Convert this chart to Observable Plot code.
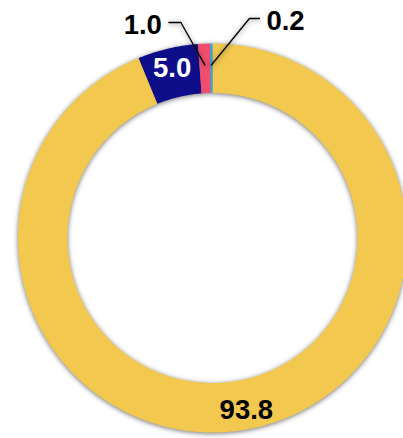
<!DOCTYPE html>
<html>
<head>
<meta charset="utf-8">
<script src="https://cdn.jsdelivr.net/npm/d3@7"></script>
<script src="https://cdn.jsdelivr.net/npm/@observablehq/plot@0.6"></script>
<style>
  html, body { margin: 0; padding: 0; background: #fff; }
  #chart svg g[aria-label="line"] { filter: drop-shadow(0px 1px 2.5px rgba(0,0,0,0.55)); }
</style>
</head>
<body>
<div id="chart"></div>
<script>
// Data
const categories = ["A", "B", "C", "D"];
const values = [93.8, 5.0, 1.0, 0.2];
const labels = ["93.8", "5.0", "1.0", "0.2"];
const colors = ["#F2C84E", "#0E0E8A", "#F04E6E", "#3AA6DA"];

// Layout (pixels, relative to donut centre; y downward)
const W = 403, H = 438;
const cx = 212, cy = 237.5;
const R = 194.5, r0 = 145;
const labelR = 175;
const insideMin = 3; // slices at least this value get inside labels
const FS = 27.5;
const FONT = "Liberation Sans, Arial, sans-serif";

const total = d3.sum(values);
let acc = 0;
const slices = values.map((v, i) => {
  const a0 = acc / total * 2 * Math.PI;
  acc += v;
  const a1 = acc / total * 2 * Math.PI;
  return {name: categories[i], value: v, label: labels[i], color: colors[i], a0, a1, mid: (a0 + a1) / 2};
});
const pt = (a, rad) => ({x: rad * Math.sin(a), y: -rad * Math.cos(a)});

// arc polygons
const ring = [];
for (const s of slices) {
  const n = Math.max(2, Math.ceil((s.a1 - s.a0) / 0.01));
  for (let k = 0; k <= n; k++) ring.push({name: s.name, ...pt(s.a0 + (s.a1 - s.a0) * k / n, R)});
  for (let k = n; k >= 0; k--) ring.push({name: s.name, ...pt(s.a0 + (s.a1 - s.a0) * k / n, r0)});
}

const inside = slices.filter(s => s.value >= insideMin).map(s => ({...s, ...pt(s.mid, labelR)}));

// outside labels with leader lines (elbow placement per side)
const outsideSlices = slices.filter(s => s.value < insideMin);
const elbowDX = [-24, 38];       // horizontal offsets of elbow from anchor
const elbowY = [-215.5, -219.5]; // elbow heights
const armLen = [12, 10];
const leaders = [], outsideText = [];
outsideSlices.forEach((s, j) => {
  const p = pt(s.mid, 173);
  const ex = p.x + elbowDX[j], ey = elbowY[j];
  const dir = elbowDX[j] < 0 ? -1 : 1;
  const tx = ex + dir * armLen[j];
  leaders.push({name: s.name, x: p.x, y: p.y}, {name: s.name, x: ex, y: ey}, {name: s.name, x: tx, y: ey});
  outsideText.push({label: s.label, x: tx + dir * 7, y: ey + 3, anchor: dir < 0 ? "end" : "start"});
});

const chart = Plot.plot({
  width: W, height: H,
  margin: 0,
  x: {domain: [-cx, W - cx], range: [0, W], axis: null},
  y: {domain: [-cy, H - cy], range: [0, H], axis: null},
  color: {domain: categories, range: colors},
  marks: [
    Plot.line(ring, {x: "x", y: "y", z: "name", fill: "name", stroke: "none"}),
    Plot.line(leaders, {x: "x", y: "y", z: "name", stroke: "#000", strokeWidth: 1.3}),
    Plot.text(inside, {x: "x", y: "y", text: "label", fill: d => d.value > 50 ? "#000" : "#fff",
      fontSize: FS, fontWeight: "bold", fontFamily: FONT}),
    Plot.text(outsideText.filter(d => d.anchor === "end"), {x: "x", y: "y", text: "label", textAnchor: "end", fill: "#000",
      fontSize: FS, fontWeight: "bold", fontFamily: FONT}),
    Plot.text(outsideText.filter(d => d.anchor === "start"), {x: "x", y: "y", text: "label", textAnchor: "start", fill: "#000",
      fontSize: FS, fontWeight: "bold", fontFamily: FONT})
  ]
});
document.getElementById("chart").appendChild(chart);
</script>
</body>
</html>
